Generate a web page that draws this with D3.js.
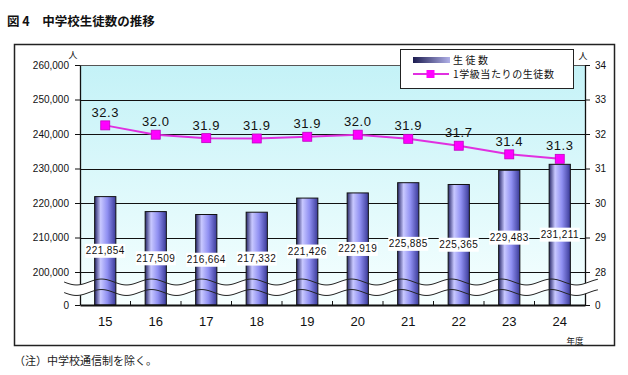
<!DOCTYPE html>
<html>
<head>
<meta charset="utf-8">
<script src="https://cdn.jsdelivr.net/npm/d3@7"></script>
<style>
  body { margin: 0; background: #fff; }
  text { font-family: Arial, "Liberation Sans", sans-serif; }
  .jp { font-family: "Noto Sans CJK JP", sans-serif; }
</style>
</head>
<body>
<script>
var years = ["15","16","17","18","19","20","21","22","23","24"];
var students = [221854, 217509, 216664, 217332, 221426, 222919, 225885, 225365, 229483, 231211];
var perClass = [32.25, 31.98, 31.88, 31.87, 31.92, 31.98, 31.86, 31.66, 31.41, 31.28];
var leftTicks = [0, 200000, 210000, 220000, 230000, 240000, 250000, 260000];
var rightTicks = [0, 28, 29, 30, 31, 32, 33, 34];

var WIDTH = 628, HEIGHT = 375;
var LEFT = 80, RIGHT = 585, TOP = 65, BOTTOM = 305, BREAK = 272;

var translate = function (x, y) {
  return "translate(" + x + "," + y + ")";
};

var svg = d3.select("body").append("svg")
  .attr("width", WIDTH)
  .attr("height", HEIGHT);

var defs = svg.append("defs");
var bg = defs.append("linearGradient").attr("id", "bg")
  .attr("x1", 0).attr("y1", 0).attr("x2", 0).attr("y2", 1);
bg.append("stop").attr("offset", "0%").attr("stop-color", "#c4f2f7");
bg.append("stop").attr("offset", "100%").attr("stop-color", "#f6ffff");

var barGrad = defs.append("linearGradient").attr("id", "bar")
  .attr("x1", 0).attr("y1", 0).attr("x2", 1).attr("y2", 0);
barGrad.append("stop").attr("offset", "0%").attr("stop-color", "#262668");
barGrad.append("stop").attr("offset", "28%").attr("stop-color", "#c8c8ff");
barGrad.append("stop").attr("offset", "60%").attr("stop-color", "#9090f2");
barGrad.append("stop").attr("offset", "100%").attr("stop-color", "#3a3a98");

var legGrad = defs.append("linearGradient").attr("id", "leg")
  .attr("x1", 0).attr("y1", 0).attr("x2", 1).attr("y2", 0);
legGrad.append("stop").attr("offset", "0%").attr("stop-color", "#1c1c50");
legGrad.append("stop").attr("offset", "100%").attr("stop-color", "#b0b0e8");

var x = d3.scaleBand()
  .domain(years)
  .range([LEFT, RIGHT])
  .paddingInner(0.58)
  .paddingOuter(0.29);

var yL = d3.scaleLinear()
  .domain([0, 200000, 260000])
  .range([BOTTOM, BREAK, TOP]);

var yR = d3.scaleLinear()
  .domain([0, 28, 34])
  .range([BOTTOM, BREAK, TOP]);

// title
svg.append("text")
  .attr("class", "jp")
  .attr("x", 7).attr("y", 26)
  .attr("font-size", 12.5)
  .attr("font-weight", "bold")
  .attr("fill", "#111")
  .text("図 4\u3000中学校生徒数の推移");

// outer frame
svg.append("rect")
  .attr("x", 14.5).attr("y", 44.5)
  .attr("width", 600).attr("height", 301)
  .attr("fill", "none")
  .attr("stroke", "#222")
  .attr("stroke-width", 1.5);

// plot background
svg.append("rect")
  .attr("x", LEFT).attr("y", TOP)
  .attr("width", RIGHT - LEFT).attr("height", BOTTOM - TOP)
  .attr("fill", "url(#bg)");

// gridlines
svg.append("g").selectAll("line")
  .data(leftTicks.filter(function (d) { return d >= 200000 && d < 260000; }))
  .enter().append("line")
  .attr("x1", LEFT).attr("x2", RIGHT)
  .attr("y1", function (d) { return Math.round(yL(d)) + 0.5; })
  .attr("y2", function (d) { return Math.round(yL(d)) + 0.5; })
  .attr("stroke", "#111")
  .attr("stroke-width", 1);

// top border of plot
svg.append("line")
  .attr("x1", LEFT).attr("x2", RIGHT)
  .attr("y1", TOP + 0.5).attr("y2", TOP + 0.5)
  .attr("stroke", "#555");

var leftAxis = d3.axisLeft(yL)
  .tickValues(leftTicks)
  .tickFormat(d3.format(","))
  .tickSize(5)
  .tickSizeOuter(0);

var gL = svg.append("g")
  .attr("transform", translate(LEFT, 0))
  .call(leftAxis);

var rightAxis = d3.axisRight(yR)
  .tickValues(rightTicks)
  .tickSize(5)
  .tickSizeOuter(0);

var gR = svg.append("g")
  .attr("transform", translate(RIGHT, 0))
  .call(rightAxis);

[gL, gR].forEach(function (g) {
  g.select(".domain").attr("stroke", "#111").attr("stroke-width", 1.3);
  g.selectAll(".tick line").attr("stroke", "#111");
  g.selectAll(".tick text")
    .attr("font-size", 10)
    .attr("fill", "#111")
    .attr("font-family", "Arial, 'Liberation Sans', sans-serif");
});
gL.selectAll(".tick text").attr("x", -11);
gR.selectAll(".tick text").attr("x", 10);

// axis break band
var waveXs = d3.range(64, 599, 2);
var wave = function (base) {
  return waveXs.map(function (px) {
    return [px, base + 3 * Math.sin(2 * Math.PI * (px - 64) / 50)];
  });
};
var upper = wave(282);
var lower = wave(292.5);
var waveLine = d3.line().curve(d3.curveBasis);

svg.append("path")
  .attr("d", waveLine(upper) + "L" + lower.slice().reverse().map(function (p) { return p.join(","); }).join("L") + "Z")
  .attr("fill", "#fff")
  .attr("stroke", "none");

// bars
svg.append("g").selectAll("rect")
  .data(students)
  .enter().append("rect")
  .attr("x", function (d, i) { return x(years[i]); })
  .attr("y", function (d) { return yL(d); })
  .attr("width", x.bandwidth())
  .attr("height", function (d) { return BOTTOM - yL(d); })
  .attr("fill", "url(#bar)")
  .attr("stroke", "#111")
  .attr("stroke-width", 1);

// wave lines over bars
[upper, lower].forEach(function (pts) {
  svg.append("path")
    .attr("d", waveLine(pts))
    .attr("fill", "none")
    .attr("stroke", "#222")
    .attr("stroke-width", 1);
});

// bottom axis
var bottomAxis = d3.axisBottom(x).tickSize(0).tickPadding(12);
var gB = svg.append("g")
  .attr("transform", translate(0, BOTTOM))
  .call(bottomAxis);
gB.select(".domain").attr("stroke", "#111").attr("stroke-width", 2);
gB.selectAll(".tick text")
  .attr("font-size", 13)
  .attr("fill", "#111")
  .attr("font-family", "Arial, 'Liberation Sans', sans-serif");

// small inner ticks between categories
svg.append("g").selectAll("line")
  .data(years.slice(1))
  .enter().append("line")
  .attr("x1", function (d) { return x(d) - x.step() * x.paddingInner() / 2; })
  .attr("x2", function (d) { return x(d) - x.step() * x.paddingInner() / 2; })
  .attr("y1", BOTTOM - 4).attr("y2", BOTTOM)
  .attr("stroke", "#111");

// bar value labels
var barLabels = svg.append("g").selectAll("g")
  .data(students)
  .enter().append("g")
  .attr("transform", function (d, i) {
    return translate(x(years[i]) + x.bandwidth() / 2, (yL(d) + yL(0)) / 2);
  });
barLabels.append("rect")
  .attr("x", -20).attr("y", -7)
  .attr("width", 40).attr("height", 14)
  .attr("fill", "#fff");
barLabels.append("text")
  .attr("text-anchor", "middle")
  .attr("dy", "0.35em")
  .attr("font-size", 10)
  .attr("letter-spacing", 0.4)
  .attr("fill", "#111")
  .text(function (d) { return d3.format(",")(d); });

// line series
var line = d3.line()
  .x(function (d, i) { return x(years[i]) + x.bandwidth() / 2; })
  .y(function (d) { return yR(d); });

svg.append("path")
  .attr("d", line(perClass))
  .attr("fill", "none")
  .attr("stroke", "#e030e0")
  .attr("stroke-width", 2);

svg.append("g").selectAll("rect")
  .data(perClass)
  .enter().append("rect")
  .attr("x", function (d, i) { return x(years[i]) + x.bandwidth() / 2 - 4.5; })
  .attr("y", function (d) { return yR(d) - 4.5; })
  .attr("width", 9).attr("height", 9)
  .attr("fill", "#ff00ff")
  .attr("stroke", "#c000c0")
  .attr("stroke-width", 0.8);

svg.append("g").selectAll("text")
  .data(perClass)
  .enter().append("text")
  .attr("x", function (d, i) { return x(years[i]) + x.bandwidth() / 2; })
  .attr("y", function (d) { return yR(d) - 13; })
  .attr("dy", "0.35em")
  .attr("text-anchor", "middle")
  .attr("font-size", 13)
  .attr("letter-spacing", 0.5)
  .attr("fill", "#111")
  .text(function (d) { return d.toFixed(1); });

// unit labels
svg.append("text").attr("class", "jp")
  .attr("x", 73).attr("y", 58).attr("text-anchor", "middle")
  .attr("font-size", 9).attr("fill", "#111").text("人");
svg.append("text").attr("class", "jp")
  .attr("x", 583).attr("y", 59).attr("text-anchor", "middle")
  .attr("font-size", 9).attr("fill", "#111").text("人");
svg.append("text").attr("class", "jp")
  .attr("x", 575).attr("y", 344).attr("text-anchor", "middle")
  .attr("font-size", 8.5).attr("fill", "#111").text("年度");

// legend
var legend = svg.append("g").attr("transform", translate(400, 49));
legend.append("rect")
  .attr("x", 0.5).attr("y", 0.5)
  .attr("width", 173).attr("height", 39)
  .attr("fill", "#fff")
  .attr("stroke", "#222");
legend.append("rect")
  .attr("x", 13).attr("y", 8)
  .attr("width", 37).attr("height", 6)
  .attr("fill", "url(#leg)");
legend.append("text").attr("class", "jp")
  .attr("x", 53).attr("y", 11).attr("dy", "0.35em")
  .attr("font-size", 10).attr("letter-spacing", 2.5)
  .attr("fill", "#111").text("生徒数");
legend.append("line")
  .attr("x1", 13).attr("x2", 49)
  .attr("y1", 25).attr("y2", 25)
  .attr("stroke", "#e030e0").attr("stroke-width", 2);
legend.append("rect")
  .attr("x", 26.5).attr("y", 21).attr("width", 8).attr("height", 8)
  .attr("fill", "#ff00ff");
legend.append("text").attr("class", "jp")
  .attr("x", 53).attr("y", 25).attr("dy", "0.35em")
  .attr("font-size", 10).attr("letter-spacing", 0.6)
  .attr("fill", "#111").text("1学級当たりの生徒数");

// footnote
svg.append("text").attr("class", "jp")
  .attr("x", 14).attr("y", 365)
  .attr("font-size", 11).attr("fill", "#222")
  .text("（注）中学校通信制を除く。");
</script>
</body>
</html>
